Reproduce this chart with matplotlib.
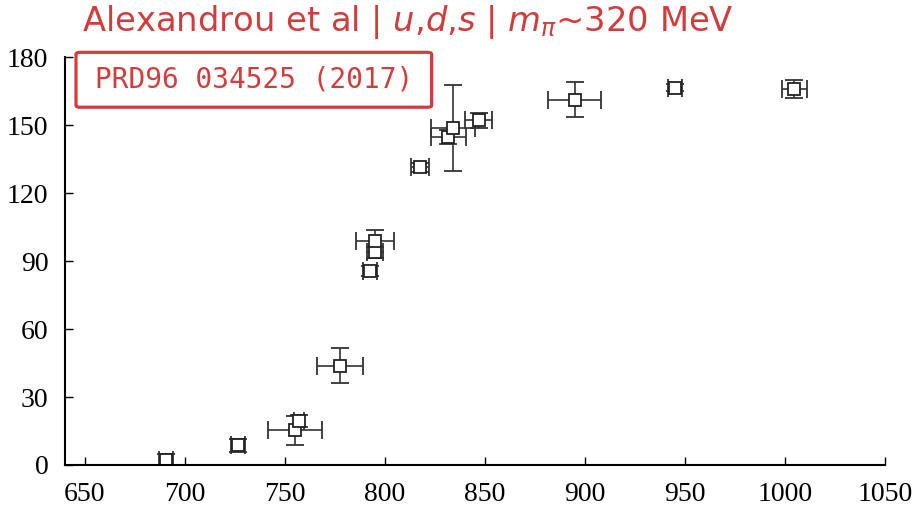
import matplotlib
matplotlib.use('Agg')
import matplotlib.pyplot as plt
from matplotlib.patches import FancyBboxPatch

# data
energy = [690.5, 726.5, 755.0, 757.0, 777.5, 792.6, 795.0, 795.0,
          817.5, 831.7, 833.8, 846.8, 894.7, 944.8, 1004.5]
energy_err = [3.7, 3.4, 13.7, 2.5, 11.4, 3.5, 4.2, 9.4,
              4.4, 8.6, 11.0, 6.9, 13.4, 3.5, 6.2]
phase = [2.2, 8.6, 15.4, 19.5, 43.8, 85.7, 93.8, 98.9,
         131.3, 144.8, 148.9, 152.2, 161.3, 166.6, 165.8]
phase_err = [2.5, 2.9, 6.4, 2.6, 7.8, 2.3, 2.5, 5.0,
             2.0, 3.0, 19.0, 3.3, 7.7, 1.6, 4.0]

xticks = [650, 700, 750, 800, 850, 900, 950, 1000, 1050]
yticks = [0, 30, 60, 90, 120, 150, 180]

red = '#d23c3c'

fig = plt.figure(figsize=(9.19, 5.13), dpi=100)
ax = fig.add_axes([0.0707, 0.0936, 0.8925, 0.795])

ax.errorbar(energy, phase, xerr=energy_err, yerr=phase_err, fmt='s',
            color='#333333', ecolor='#333333', elinewidth=1.2, capsize=6.5,
            capthick=1.2, markersize=8.5, markerfacecolor='white',
            markeredgecolor='#222222', markeredgewidth=1.3)

ax.set_xlim(640, 1050)
ax.set_ylim(0, 180)
ax.set_xticks(xticks)
ax.set_yticks(yticks)
ax.spines['top'].set_visible(False)
ax.spines['right'].set_visible(False)
for s in ['left', 'bottom']:
    ax.spines[s].set_linewidth(1.5)
ax.tick_params(direction='in', length=6, width=1, pad=12)
for lab in ax.get_xticklabels() + ax.get_yticklabels():
    lab.set_family('Liberation Serif')
    lab.set_fontsize(20)

fig.text(0.089, 0.957, r'Alexandrou et al | $u$,$d$,$s$ | $m_{\pi}$~320 MeV',
         color=red, fontsize=24.3, family='DejaVu Sans', va='center', ha='left')

# reference box
box = FancyBboxPatch((0.0827, 0.791), 0.387, 0.107, transform=fig.transFigure,
                     boxstyle='round,pad=0,rounding_size=0.004',
                     facecolor='white', edgecolor=red, linewidth=2.3)
fig.patches.append(box)
fig.text(0.2762, 0.846, 'PRD96 034525 (2017)', color=red, fontsize=20,
         family='DejaVu Sans Mono', va='center', ha='center')

fig.savefig('out.png', dpi=100)
